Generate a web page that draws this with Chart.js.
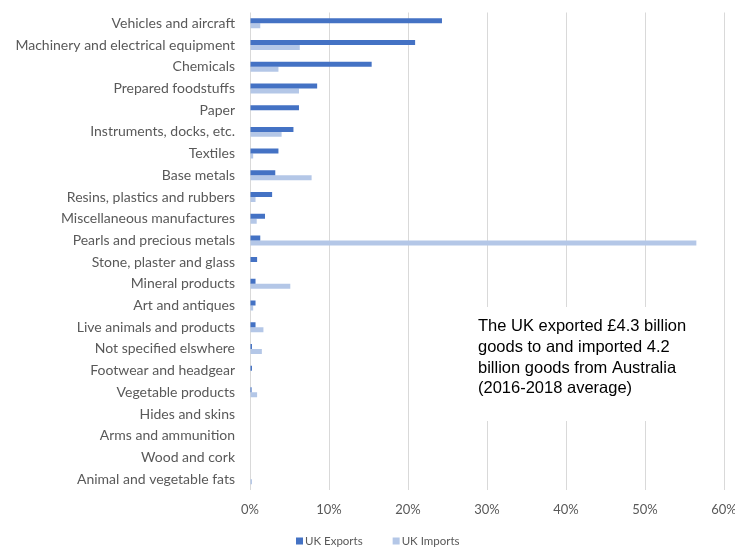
<!DOCTYPE html>
<html>
<head>
<meta charset="utf-8">
<script src="https://cdn.jsdelivr.net/npm/chart.js@4/dist/chart.umd.min.js"></script>
<style>
  html, body { margin: 0; padding: 0; background: #ffffff; }
  #wrap { width: 735px; height: 549px; position: relative; }
</style>
</head>
<body>
<div id="wrap"><canvas id="c"></canvas></div>
<script>
// Share of UK trade with Australia by product group, %
const categories = [
  'Vehicles and aircraft',
  'Machinery and electrical equipment',
  'Chemicals',
  'Prepared foodstuffs',
  'Paper',
  'Instruments, docks, etc.',
  'Textiles',
  'Base metals',
  'Resins, plastics and rubbers',
  'Miscellaneous manufactures',
  'Pearls and precious metals',
  'Stone, plaster and glass',
  'Mineral products',
  'Art and antiques',
  'Live animals and products',
  'Not specified elswhere',
  'Footwear and headgear',
  'Vegetable products',
  'Hides and skins',
  'Arms and ammunition',
  'Wood and cork',
  'Animal and vegetable fats'
];
const ukExports = [24.3, 20.9, 15.4, 8.5, 6.2, 5.5, 3.6, 3.2, 2.8, 1.9, 1.3, 0.9, 0.7, 0.7, 0.7, 0.25, 0.25, 0.2, 0, 0, 0, 0];
const ukImports = [1.3, 6.3, 3.6, 6.2, 0, 4.0, 0.4, 7.8, 0.7, 0.85, 56.5, 0, 5.1, 0.4, 1.7, 1.5, 0, 0.9, 0, 0, 0, 0.25];
const seriesNames = ['UK Exports', 'UK Imports'];
const xTickLabels = ['0%', '10%', '20%', '30%', '40%', '50%', '60%'];
const noteLines = [
  'The UK exported £4.3 billion',
  'goods to and imported 4.2',
  'billion goods from Australia',
  '(2016-2018 average)'
];

const labelFont = "'Lato', 'Open Sans', sans-serif";
const grey = '#595959';

// Text note in a white box over the lower right of the plot
const notePlugin = {
  id: 'note',
  beforeDatasetsDraw(chart) {
    const { ctx } = chart;
    ctx.save();
    ctx.fillStyle = '#ffffff';
    ctx.fillRect(470, 307, 248, 114);
    ctx.fillStyle = '#000000';
    ctx.font = "16.5px 'Liberation Sans', Arial, sans-serif";
    ctx.textBaseline = 'alphabetic';
    ctx.textAlign = 'left';
    noteLines.forEach((line, i) => ctx.fillText(line, 478, 331 + i * 20.8));
    ctx.restore();
  }
};

// Compact legend row under the axis: small square swatch, then the series name
const legendRowPlugin = {
  id: 'legendRow',
  afterDraw(chart) {
    const { ctx } = chart;
    const y = 541;
    let x = 296;
    ctx.save();
    ctx.font = "11.5px " + labelFont;
    ctx.textBaseline = 'middle';
    ctx.textAlign = 'left';
    chart.data.datasets.forEach((ds) => {
      ctx.fillStyle = ds.backgroundColor;
      ctx.fillRect(x, y - 3.5, 7, 7);
      ctx.fillStyle = grey;
      ctx.fillText(ds.label, x + 9, y + 0.5);
      x += 9 + ctx.measureText(ds.label).width + 30;
    });
    ctx.restore();
  }
};

new Chart(document.getElementById('c'), {
  type: 'bar',
  data: {
    labels: categories,
    datasets: [
      { label: seriesNames[0], data: ukExports, backgroundColor: '#4472c4' },
      { label: seriesNames[1], data: ukImports, backgroundColor: '#b4c7e7' }
    ]
  },
  options: {
    indexAxis: 'y',
    responsive: true,
    maintainAspectRatio: false,
    animation: false,
    layout: { padding: { top: 12.5, right: 11, left: 0, bottom: 27.5 } },
    datasets: { bar: { categoryPercentage: 0.46, barPercentage: 1.0, borderWidth: 0 } },
    scales: {
      x: {
        min: 0, max: 60,
        ticks: {
          stepSize: 10,
          padding: 12,
          color: grey,
          font: { family: labelFont, size: 13 },
          callback: (v) => xTickLabels[Math.round(v / 10)]
        },
        grid: { color: '#d9d9d9', drawTicks: false, lineWidth: 1 },
        border: { display: false },
        afterFit(scale) { scale.height = 31.5; scale.paddingLeft = 0; scale.paddingRight = 0; }
      },
      y: {
        ticks: {
          padding: 15,
          color: grey,
          autoSkip: false,
          font: { family: labelFont, size: 14 }
        },
        grid: { display: false, drawTicks: false },
        border: { display: false },
        afterFit(scale) { scale.width = 250; scale.paddingTop = 0; scale.paddingBottom = 0; }
      }
    },
    plugins: {
      legend: { display: false },
      tooltip: { enabled: false }
    }
  },
  plugins: [notePlugin, legendRowPlugin]
});
</script>
</body>
</html>
